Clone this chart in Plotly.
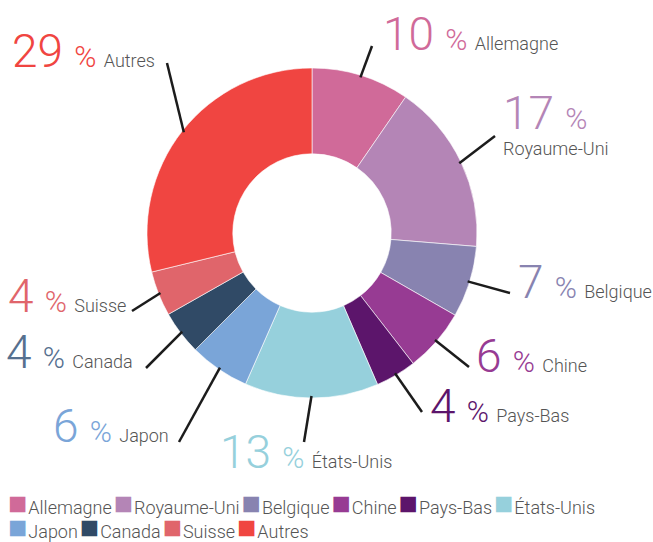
"""Donut chart of shares by country, with hand-placed callout labels."""

import math

import plotly.graph_objects as go

COUNTRIES = [
    "Allemagne", "Royaume-Uni", "Belgique", "Chine", "Pays-Bas",
    "États-Unis", "Japon", "Canada", "Suisse", "Autres",
]
SHARES = [9.6, 16.7, 7.0, 6.2, 4.0, 13.1, 5.9, 4.3, 4.4, 28.8]
COLORS = [
    "#d06a99", "#b485b6", "#8883b0", "#973b93", "#5c156b",
    "#96d0dc", "#7aa5d8", "#304a66", "#e0656b", "#f04541",
]
LEGEND_ROWS = [COUNTRIES[:6], COUNTRIES[6:]]

WIDTH, HEIGHT = 653, 542
CENTER_X, CENTER_Y = 312, 233
RADIUS = 165
FONT = "Roboto, 'Open Sans', sans-serif"
NAME_COLOR = "#555555"
# the Canada callout is printed in a lighter slate than its slice
LABEL_COLOR_OVERRIDE = {"Canada": "#56708f"}

# label anchor (x, text baseline, side) and where each leader line ends, in pixels
LABEL_LAYOUT = {
    "Allemagne": (381, 50, "left", (372, 46)),
    "Royaume-Uni": (501, 128, "left", (495, 136)),
    "Belgique": (516, 298, "left", (510, 293)),
    "Chine": (474, 372, "left", (469, 367)),
    "Pays-Bas": (428, 422, "left", (422, 412)),
    "États-Unis": (218, 468, "left", (304, 442)),
    "Japon": (171, 442, "right", (179, 442)),
    "Canada": (135, 368, "right", (146, 368)),
    "Suisse": (128, 312, "right", (132, 311)),
    "Autres": (157, 67, "right", (167, 63)),
}
LEGEND_X = 6
LEGEND_BASELINES = [516, 540]


def px_x(x: float) -> float:
    return x / WIDTH


def px_y(y: float) -> float:
    return 1 - y / HEIGHT


def label_text(pct: float, name: str, color: str) -> str:
    sep = "<br>" if name == "Royaume-Uni" else ""
    return (
        f'<span style="font-size:46px;color:{color}">{pct:.0f}&nbsp;</span>'
        f'<span style="font-size:30px;color:{color}">%&nbsp;</span>{sep}'
        f'<span style="font-size:18px;color:{NAME_COLOR}">{name}</span>'
    )


def gap(size: int) -> str:
    return f'<span style="font-size:{size}px">&nbsp;</span>'


fig = go.Figure(
    go.Pie(
        labels=COUNTRIES,
        values=SHARES,
        marker={"colors": COLORS, "line": {"color": "white", "width": 0.6}},
        hole=0.48,
        sort=False,
        direction="clockwise",
        rotation=0,
        textinfo="none",
        showlegend=False,
        domain={
            "x": [px_x(CENTER_X - RADIUS), px_x(CENTER_X + RADIUS)],
            "y": [px_y(CENTER_Y + RADIUS), px_y(CENTER_Y - RADIUS)],
        },
    )
)

total = sum(SHARES)
cumulative = 0.0
for name, share, color in zip(COUNTRIES, SHARES, COLORS):
    theta = 2 * math.pi * (cumulative + share / 2) / total
    cumulative += share
    start_x = CENTER_X + (RADIUS - 2) * math.sin(theta)
    start_y = CENTER_Y - (RADIUS - 2) * math.cos(theta)
    label_x, baseline, side, (end_x, end_y) = LABEL_LAYOUT[name]

    fig.add_shape(
        type="line",
        xref="paper",
        yref="paper",
        x0=px_x(start_x),
        y0=px_y(start_y),
        x1=px_x(end_x),
        y1=px_y(end_y),
        line={"color": "#1c1c1c", "width": 2.5},
    )
    bottom_pad = 33 if name == "Royaume-Uni" else 13
    fig.add_annotation(
        x=px_x(label_x),
        y=px_y(baseline + bottom_pad),
        xref="paper",
        yref="paper",
        xanchor=side,
        yanchor="bottom",
        align="left",
        text=label_text(share, name, LABEL_COLOR_OVERRIDE.get(name, color)),
        showarrow=False,
        font={"family": FONT, "size": 20, "weight": 300},
    )

# legend: coloured squares followed by the country name, two rows
color_of = dict(zip(COUNTRIES, COLORS))
for row, baseline in zip(LEGEND_ROWS, LEGEND_BASELINES):
    entries = [
        f'<span style="color:{color_of[name]};font-size:32px">■</span>'
        f"{gap(4)}{name}"
        for name in row
    ]
    fig.add_annotation(
        x=px_x(LEGEND_X),
        y=px_y(baseline + 8),
        xref="paper",
        yref="paper",
        xanchor="left",
        yanchor="bottom",
        align="left",
        text=gap(8).join(entries),
        showarrow=False,
        font={"family": FONT, "size": 18, "weight": 300, "color": NAME_COLOR},
    )

fig.update_layout(
    width=WIDTH,
    height=HEIGHT,
    margin={"l": 0, "r": 0, "t": 0, "b": 0},
    paper_bgcolor="white",
    plot_bgcolor="white",
    font={"family": FONT, "weight": 300, "color": NAME_COLOR},
    showlegend=False,
)

fig.write_html(
    "out.html",
    config={"displayModeBar": False},
    post_script="document.body.style.margin = '0';",
)
